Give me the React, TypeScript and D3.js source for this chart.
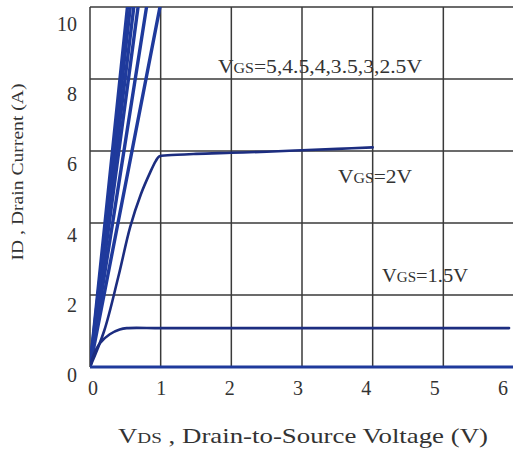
import React from "react";
import * as d3 from "d3";

const xTicks = [0, 1, 2, 3, 4, 5, 6];
const yTicks = [0, 2, 4, 6, 8, 10];
const steepVgs = [5, 4.5, 4, 3.5, 3, 2.5];
const steepVdsAt10 = [0.53, 0.57, 0.62, 0.68, 0.8, 0.99];
const vgs2Vds = [0, 0.2, 0.4, 0.57, 0.72, 0.85, 0.93, 0.98, 1.1, 1.5, 2, 2.5, 3, 3.5, 4.0];
const vgs2Id = [0, 1.0, 2.5, 3.9, 4.8, 5.4, 5.72, 5.85, 5.88, 5.92, 5.95, 5.98, 6.02, 6.06, 6.1];
const vgs15Vds = [0, 0.05, 0.14, 0.28, 0.42, 0.52, 1, 2, 3, 4, 5, 5.93];
const vgs15Id = [0, 0.33, 0.66, 0.91, 1.04, 1.08, 1.08, 1.08, 1.08, 1.08, 1.08, 1.08];

export default function App() {
  const W = 513, H = 454;
  const x = d3.scaleLinear().domain([0, 6]).range([90, 514]);
  const y = d3.scaleLinear().domain([0, 10]).range([367, 7]);
  const xLab = d3.scaleLinear().domain([0, 6]).range([93, 503]);
  const yLab = d3.scaleLinear().domain([0, 10]).range([375, 24]);
  const line = d3.line<[number, number]>().x(d => x(d[0])).y(d => y(d[1]));
  const curve = d3.line<[number, number]>().x(d => x(d[0])).y(d => y(d[1])).curve(d3.curveCatmullRom.alpha(0.5));
  const grid = "#3a3a3a";
  const blue = "#1f3a9c";
  const navy = "#1c2d80";
  const font = "'Liberation Serif', 'Times New Roman', serif";
  const txt = "#333";
  const v2: [number, number][] = vgs2Vds.map((v, i) => [v, vgs2Id[i]]);
  const v15: [number, number][] = vgs15Vds.map((v, i) => [v, vgs15Id[i]]);
  return (
    <svg width={W} height={H} style={{ position: "absolute", left: 0, top: 0, background: "#fff" }} fontFamily={font}>
      <defs>
        <clipPath id="plot">
          <rect x={x(0)} y={y(10)} width={x(6) - x(0)} height={y(0) - y(10)} />
        </clipPath>
      </defs>
      {xTicks.filter(t => t > 0).map(t => (
        <line key={"gx" + t} x1={x(t)} x2={x(t)} y1={y(0)} y2={y(10)} stroke={grid} strokeWidth={1.5} />
      ))}
      {yTicks.filter(t => t > 0).map(t => (
        <line key={"gy" + t} x1={x(0)} x2={x(6)} y1={y(t)} y2={y(t)} stroke={grid} strokeWidth={1.5} />
      ))}
      <line x1={x(0)} x2={x(0)} y1={y(0)} y2={y(10)} stroke={grid} strokeWidth={1.5} />
      <g clipPath="url(#plot)" fill="none" strokeLinejoin="round" strokeLinecap="round">
        {steepVgs.map((g, i) => (
          <path key={"s" + g} d={line([[0, 0], [steepVdsAt10[i] * 1.05, 10.5]]) || ""} stroke={blue} strokeWidth={3.4} />
        ))}
        <path d={curve(v2) || ""} stroke={navy} strokeWidth={2.6} />
        <path d={curve(v15) || ""} stroke={navy} strokeWidth={2.6} />
      </g>
      <line x1={x(0)} x2={x(6)} y1={y(0)} y2={y(0)} stroke={blue} strokeWidth={3} />
      {yTicks.map(t => (
        <text key={"ty" + t} x={77} y={yLab(t)} dy="0.35em" textAnchor="end" fontSize={20} fill={txt}>{t}</text>
      ))}
      {xTicks.map(t => (
        <text key={"tx" + t} x={xLab(t)} y={388} dy="0.35em" textAnchor="middle" fontSize={20} fill={txt}>{t}</text>
      ))}
      <text x={118} y={443} fontSize={21} fill={txt} textLength={370} lengthAdjust="spacingAndGlyphs">
        V<tspan fontSize={15}>DS</tspan> , Drain-to-Source  Voltage (V)
      </text>
      <text transform="translate(23,172) rotate(-90)" textAnchor="middle" fontSize={17} fill={txt} textLength={177} lengthAdjust="spacingAndGlyphs">
        ID , Drain Current (A)
      </text>
      <text x={218} y={73} fontSize={19} fill={txt} textLength={204} lengthAdjust="spacingAndGlyphs">
        V<tspan fontSize={14}>GS</tspan>=5,4.5,4,3.5,3,2.5V
      </text>
      <text x={338} y={183} fontSize={19} fill={txt} textLength={74} lengthAdjust="spacingAndGlyphs">
        V<tspan fontSize={14}>GS</tspan>=2V
      </text>
      <text x={382} y={282} fontSize={19} fill={txt} textLength={86} lengthAdjust="spacingAndGlyphs">
        V<tspan fontSize={14}>GS</tspan>=1.5V
      </text>
    </svg>
  );
}
